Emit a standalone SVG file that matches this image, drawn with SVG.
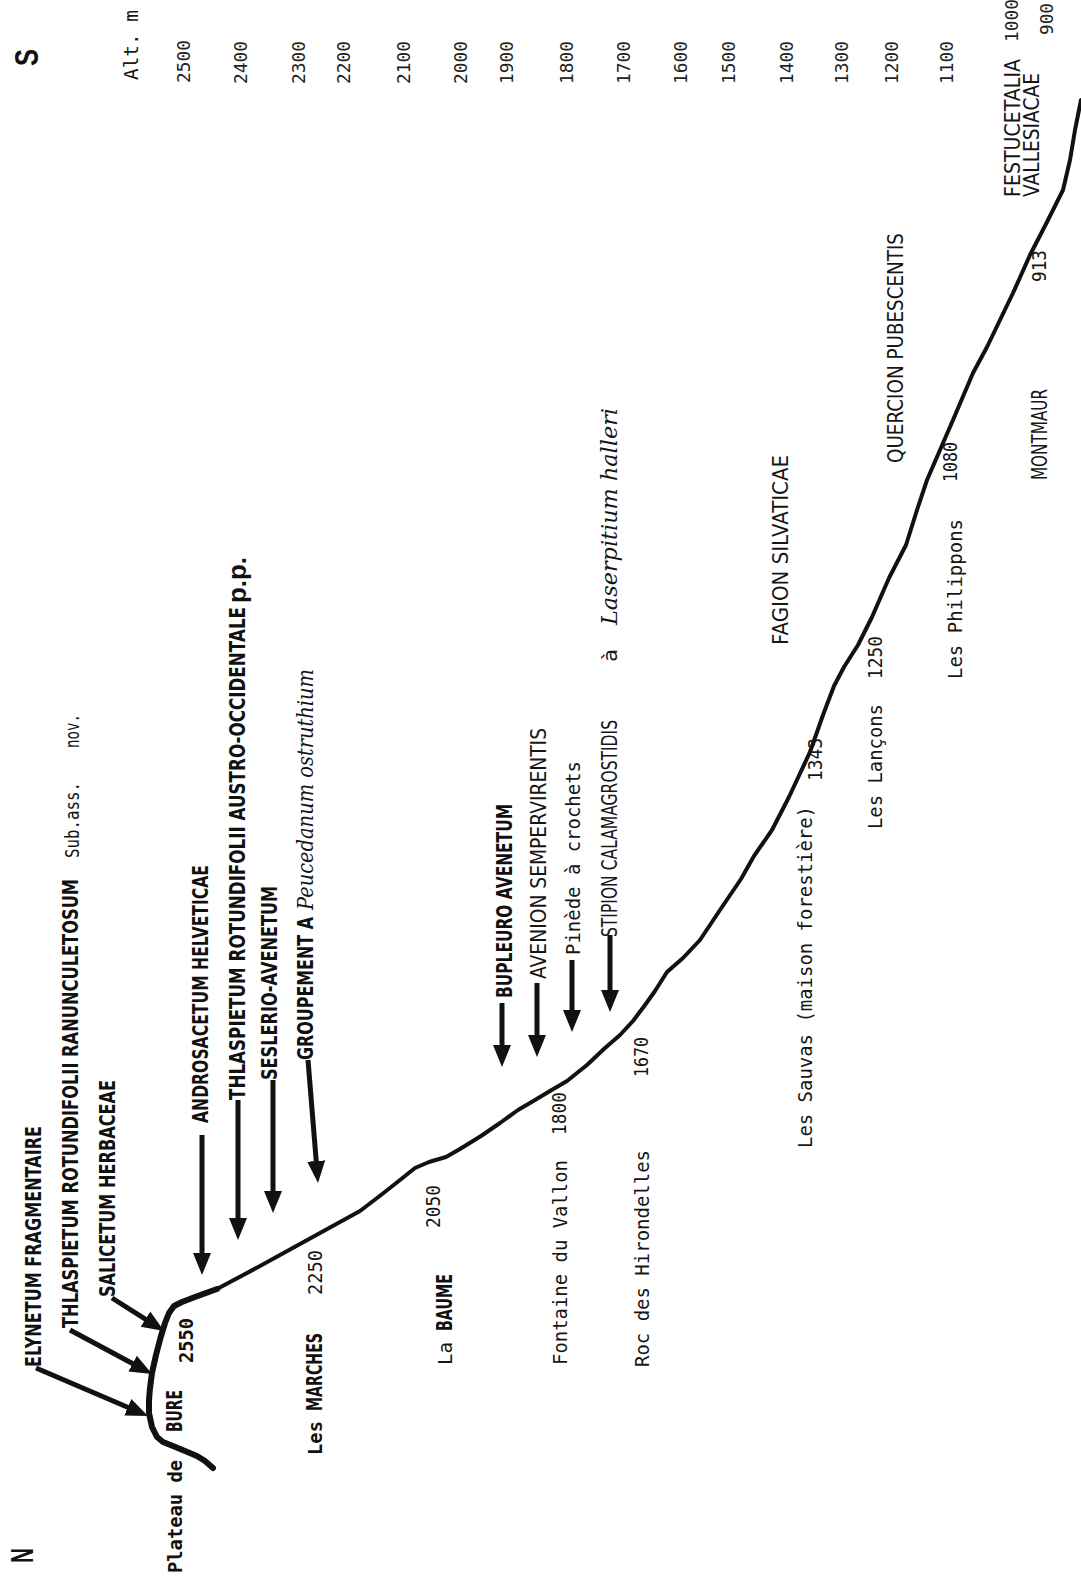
<svg xmlns="http://www.w3.org/2000/svg" width="1081" height="1580" viewBox="0 0 1081 1580">
<style>
.tw{font-family:"DejaVu Sans Mono","Liberation Mono",monospace;font-size:19px;fill:#161616}
.num{font-family:"DejaVu Sans Mono","Liberation Mono",monospace;font-size:18px;fill:#222}
.twb{font-family:"DejaVu Sans Mono","Liberation Mono",monospace;font-size:19px;font-weight:bold;fill:#111}
.let{font-family:"DejaVu Sans","Liberation Sans",sans-serif;font-size:22px;font-weight:bold;fill:#111}
.lt{font-family:"DejaVu Sans","Liberation Sans",sans-serif;font-size:21px;fill:#161616}
.it{font-family:"DejaVu Serif","Liberation Serif",serif;font-style:italic;font-size:22px;fill:#161616}
.big{font-family:"Liberation Sans","DejaVu Sans",sans-serif;font-weight:bold;fill:#111}
.prof{fill:none;stroke:#111;stroke-linejoin:round;stroke-linecap:round}
.arr{stroke:#111;stroke-width:5;fill:none;stroke-linecap:butt;marker-end:url(#ah)}
</style>
<defs>
<marker id="ah" markerUnits="userSpaceOnUse" viewBox="0 -10 24 20" markerWidth="24" markerHeight="20" refX="12" refY="0" orient="auto">
<path d="M0,-9 L22,0 L0,9 Z" fill="#111"/>
</marker>
</defs>
<rect width="1081" height="1580" fill="#fff"/>

<g id="profile">
<path class="prof" stroke-width="6" d="M213,1468 L205,1461 L197,1456 L185,1451 L173,1446 L163,1442 L157,1437 L152,1427 L149,1413 L149,1400 L150,1388 L152,1373 L156,1355 L161,1336 L165,1323 L169,1313 L174,1306 L182,1302 L195,1297 L217,1289"/>
<path class="prof" stroke-width="4" d="M217,1289 L260,1266 L300,1244 L340,1222 L360,1211 L381,1195 L400,1180 L415,1168 L429,1162 L446,1157 L460,1149 L481,1136 L500,1123 L518,1110 L535,1100 L550,1091 L567,1081 L587,1065 L605,1048 L620,1035 L633,1021 L645,1005 L655,991 L667,972 L683,958 L700,940 L720,910 L741,879 L754,856 L772,830 L789,797 L810,752 L823,715 L834,686 L844,667 L858,645 L872,617 L889,578 L906,545 L917,510 L927,480 L940,450 L953,420 L973,373 L987,347 L1000,320 L1013,293 L1030,255 L1047,222 L1063,190 L1070,160 L1075,130 L1081,100"/>
</g>

<g id="connectors">
<line class="arr" x1="36" y1="1368" x2="138.8" y2="1412"/>
<line class="arr" x1="70" y1="1330" x2="143.2" y2="1369.3"/>
<line class="arr" x1="112" y1="1298" x2="155.6" y2="1325.6"/>
<line class="arr" x1="202" y1="1135" x2="202" y2="1265"/>
<line class="arr" x1="238" y1="1100" x2="238" y2="1230"/>
<line class="arr" x1="273" y1="1080" x2="273" y2="1203"/>
<line class="arr" x1="308" y1="1060" x2="317.2" y2="1173"/>
<line class="arr" x1="502" y1="1003" x2="502" y2="1057"/>
<line class="arr" x1="537" y1="983" x2="537" y2="1047"/>
<line class="arr" x1="572" y1="960" x2="572" y2="1022"/>
<line class="arr" x1="610" y1="935" x2="610" y2="1002"/>
</g>

<g id="labels" transform="translate(0,1580) rotate(-90)">
<g id="axis">
<text class="big" x="1514" y="38" font-size="34" textLength="17" lengthAdjust="spacingAndGlyphs">S</text>
<text class="big" x="17" y="33" font-size="32" textLength="15" lengthAdjust="spacingAndGlyphs">N</text>
<text class="tw" x="1500" y="138" textLength="70" lengthAdjust="spacingAndGlyphs">Alt. m</text>
<text class="num" x="1497" y="190" textLength="43" lengthAdjust="spacingAndGlyphs">2500</text>
<text class="num" x="1496" y="247" textLength="43" lengthAdjust="spacingAndGlyphs">2400</text>
<text class="num" x="1496" y="305" textLength="43" lengthAdjust="spacingAndGlyphs">2300</text>
<text class="num" x="1496" y="350" textLength="43" lengthAdjust="spacingAndGlyphs">2200</text>
<text class="num" x="1496" y="410" textLength="43" lengthAdjust="spacingAndGlyphs">2100</text>
<text class="num" x="1496" y="467" textLength="43" lengthAdjust="spacingAndGlyphs">2000</text>
<text class="num" x="1496" y="513" textLength="43" lengthAdjust="spacingAndGlyphs">1900</text>
<text class="num" x="1496" y="573" textLength="43" lengthAdjust="spacingAndGlyphs">1800</text>
<text class="num" x="1496" y="630" textLength="43" lengthAdjust="spacingAndGlyphs">1700</text>
<text class="num" x="1496" y="687" textLength="43" lengthAdjust="spacingAndGlyphs">1600</text>
<text class="num" x="1496" y="735" textLength="43" lengthAdjust="spacingAndGlyphs">1500</text>
<text class="num" x="1496" y="793" textLength="43" lengthAdjust="spacingAndGlyphs">1400</text>
<text class="num" x="1496" y="848" textLength="43" lengthAdjust="spacingAndGlyphs">1300</text>
<text class="num" x="1496" y="898" textLength="43" lengthAdjust="spacingAndGlyphs">1200</text>
<text class="num" x="1496" y="953" textLength="43" lengthAdjust="spacingAndGlyphs">1100</text>
<text class="num" x="1538" y="1018" textLength="43" lengthAdjust="spacingAndGlyphs">1000</text>
<text class="num" x="1545" y="1053" textLength="32" lengthAdjust="spacingAndGlyphs">900</text>
</g>

<g id="places">
<text class="twb" x="7" y="182" textLength="113" lengthAdjust="spacingAndGlyphs">Plateau de</text>
<text class="let" x="148" y="182" textLength="42" lengthAdjust="spacingAndGlyphs">BURE</text>
<text class="twb" x="217" y="193" textLength="45" lengthAdjust="spacingAndGlyphs">2550</text>
<text class="twb" x="125" y="322" textLength="34" lengthAdjust="spacingAndGlyphs">Les</text>
<text class="let" x="169" y="322" textLength="78" lengthAdjust="spacingAndGlyphs">MARCHES</text>
<text class="tw" x="285" y="322" textLength="45" lengthAdjust="spacingAndGlyphs">2250</text>
<text class="tw" x="215" y="452" textLength="23" lengthAdjust="spacingAndGlyphs">La</text>
<text class="let" x="249" y="452" textLength="57" lengthAdjust="spacingAndGlyphs">BAUME</text>
<text class="tw" x="352" y="440" textLength="43" lengthAdjust="spacingAndGlyphs">2050</text>
<text class="tw" x="215" y="567" textLength="205" lengthAdjust="spacingAndGlyphs">Fontaine du Vallon</text>
<text class="tw" x="445" y="566" textLength="43" lengthAdjust="spacingAndGlyphs">1800</text>
<text class="tw" x="213" y="649" textLength="217" lengthAdjust="spacingAndGlyphs">Roc des Hirondelles</text>
<text class="tw" x="503" y="648" textLength="40" lengthAdjust="spacingAndGlyphs">1670</text>
<text class="tw" x="432" y="812" textLength="342" lengthAdjust="spacingAndGlyphs">Les Sauvas (maison forestière)</text>
<text class="tw" x="799" y="822" textLength="43" lengthAdjust="spacingAndGlyphs">1343</text>
<text class="tw" x="751" y="882" textLength="125" lengthAdjust="spacingAndGlyphs">Les Lançons</text>
<text class="tw" x="901" y="882" textLength="43" lengthAdjust="spacingAndGlyphs">1250</text>
<text class="tw" x="901" y="962" textLength="160" lengthAdjust="spacingAndGlyphs">Les Philippons</text>
<text class="tw" x="1098" y="957" textLength="40" lengthAdjust="spacingAndGlyphs">1080</text>
<text class="lt" x="1100" y="1047" textLength="91" lengthAdjust="spacingAndGlyphs">MONTMAUR</text>
<text class="tw" x="1298" y="1046" textLength="32" lengthAdjust="spacingAndGlyphs">913</text>
</g>

<g id="communities">
<text class="let" x="213" y="41" textLength="241" lengthAdjust="spacingAndGlyphs">ELYNETUM FRAGMENTAIRE</text>
<text class="let" x="252" y="78" textLength="449" lengthAdjust="spacingAndGlyphs">THLASPIETUM ROTUNDIFOLII RANUNCULETOSUM</text>
<text class="tw" x="722" y="79" textLength="76" lengthAdjust="spacingAndGlyphs">Sub.ass.</text>
<text class="tw" x="832" y="79" textLength="34" lengthAdjust="spacingAndGlyphs">nov.</text>
<text class="let" x="283" y="115" textLength="217" lengthAdjust="spacingAndGlyphs">SALICETUM HERBACEAE</text>
<text class="let" x="457" y="208" textLength="258" lengthAdjust="spacingAndGlyphs">ANDROSACETUM HELVETICAE</text>
<text class="let" x="480" y="245" textLength="493" lengthAdjust="spacingAndGlyphs">THLASPIETUM ROTUNDIFOLII AUSTRO-OCCIDENTALE</text>
<text class="big" x="977" y="246" font-size="26" textLength="46" lengthAdjust="spacingAndGlyphs">p.p.</text>
<text class="let" x="500" y="277" textLength="194" lengthAdjust="spacingAndGlyphs">SESLERIO-AVENETUM</text>
<text class="let" x="520" y="313" textLength="143" lengthAdjust="spacingAndGlyphs">GROUPEMENT A</text>
<text class="it" x="670" y="313" textLength="241" lengthAdjust="spacingAndGlyphs">Peucedanum ostruthium</text>
<text class="let" x="582" y="512" textLength="194" lengthAdjust="spacingAndGlyphs">BUPLEURO AVENETUM</text>
<text class="lt" x="601" y="546" textLength="251" lengthAdjust="spacingAndGlyphs">AVENION SEMPERVIRENTIS</text>
<text class="tw" x="625" y="580" textLength="194" lengthAdjust="spacingAndGlyphs">Pinède à crochets</text>
<text class="lt" x="643" y="617" textLength="217" lengthAdjust="spacingAndGlyphs">STIPION CALAMAGROSTIDIS</text>
<text class="tw" x="918" y="617" textLength="13" lengthAdjust="spacingAndGlyphs">à</text>
<text class="it" x="955" y="617" textLength="217" lengthAdjust="spacingAndGlyphs">Laserpitium halleri</text>
<text class="lt" x="935" y="788" textLength="190" lengthAdjust="spacingAndGlyphs">FAGION SILVATICAE</text>
<text class="lt" x="1117" y="903" textLength="230" lengthAdjust="spacingAndGlyphs">QUERCION PUBESCENTIS</text>
<text class="lt" x="1383" y="1020" font-size="17" textLength="138" lengthAdjust="spacingAndGlyphs">FESTUCETALIA</text>
<text class="lt" x="1383" y="1039" font-size="17" textLength="124" lengthAdjust="spacingAndGlyphs">VALLESIACAE</text>
</g>
</g>
</svg>
